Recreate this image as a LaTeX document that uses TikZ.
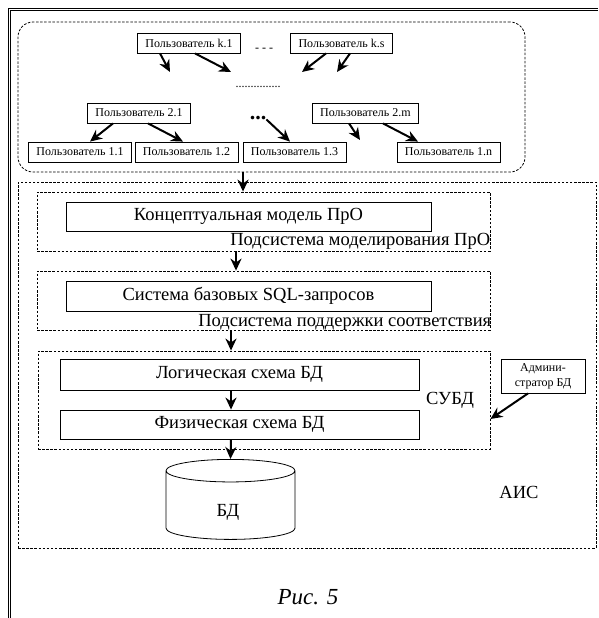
\documentclass[tikz,border=0pt]{standalone}
\usepackage{fontspec}
\setmainfont{Liberation Serif}
\usetikzlibrary{arrows.meta,shapes.geometric,positioning}
\tikzset{
  pageborder/.style={draw=black,double=white,line width=0.8pt,double distance=1.2pt},
  zone/.style={draw,dash pattern=on 2.5pt off 1.6pt,line width=0.8pt,inner sep=0pt},
  userbox/.style={draw,line width=0.8pt,minimum height=20pt,inner xsep=8pt,inner ysep=0pt,
                  font=\fontsize{12}{14}\selectfont},
  block/.style={draw,line width=0.8pt,inner sep=0pt,font=\fontsize{18.5}{20}\selectfont},
  flow/.style={-{Stealth[length=12pt,width=11pt]},line width=2pt},
  txt/.style={font=\fontsize{18.5}{20}\selectfont,inner sep=0pt}
}
\begin{document}
\begin{tikzpicture}[x=1pt,y=-1pt]
  \useasboundingbox (0,0) rectangle (598,618);
  \draw[pageborder] (9.5,618)--(9.5,9.5)--(598,9.5);

  % Users of the subject area.
  \node[zone,rounded corners=15pt,minimum width=507pt,minimum height=150pt] (users) at (271.5,97) {};
  \node[userbox] (k1) at (189,43) {Пользователь k.1};
  \node[userbox] (ks) at (341.5,43) {Пользователь k.s};
  \node[userbox] (u21) at (139,113) {Пользователь 2.1};
  \node[userbox] (u2m) at (365.5,113) {Пользователь 2.m};
  \node[userbox] (u11) at (80,152) {Пользователь 1.1};
  \node[userbox] (u12) at (186.5,152) {Пользователь 1.2};
  \node[userbox] (u13) at (294.5,152) {Пользователь 1.3};
  \node[userbox] (u1n) at (448.5,152) {Пользователь 1.n};
  \node[font=\fontsize{12}{14}\selectfont,inner sep=0pt] (gapk) at (264,50) {- - -};
  \node[font=\fontsize{12}{14}\selectfont,inner sep=0pt,anchor=base] (gapmid) at (258,88) {...............};
  \node[font=\fontsize{22}{24}\selectfont\bfseries,inner sep=0pt,anchor=base] (gaptwo) at (258,119) {...};
  \coordinate (k1a) at (170,72);
  \coordinate (k1b) at (231,72);
  \coordinate (ksa) at (302,72);
  \coordinate (ksb) at (337,72);
  \coordinate (u2ma) at (360,140);
  \draw[flow] ([xshift=-29pt]k1.south)--(k1a);
  \draw[flow] ([xshift=6pt]k1.south)--(k1b);
  \draw[flow] ([xshift=-15.5pt]ks.south)--(ksa);
  \draw[flow] ([xshift=8.5pt]ks.south)--(ksb);
  \draw[flow] ([xshift=-26pt]u21.south)--([xshift=10pt]u11.north);
  \draw[flow] ([xshift=9pt]u21.south)--([xshift=-3.5pt]u12.north);
  \draw[flow] (gaptwo.south east)--([xshift=-4.5pt]u13.north);
  \draw[flow] ([xshift=-16.5pt]u2m.south)--(u2ma);
  \draw[flow] ([xshift=17.5pt]u2m.south)--([xshift=-30.5pt]u1n.north);

  % Information system and its subsystems.
  \node[zone,minimum width=578pt,minimum height=366pt] (ais) at (307,365) {};
  \node[zone,minimum width=453pt,minimum height=59pt] (sub1) at (263.5,221.5) {};
  \node[zone,minimum width=453pt,minimum height=59pt] (sub2) at (263.5,300.5) {};
  \node[zone,minimum width=452pt,minimum height=98pt] (sub3) at (264,400) {};
  \node[block,minimum width=365pt,minimum height=29pt] (konz) at (248.5,216.5) {Концептуальная модель ПрО};
  \node[txt,anchor=east] (lab1) at ([yshift=10pt]sub1.south east) {Подсистема моделирования ПрО};
  \node[block,minimum width=365pt,minimum height=30pt] (sql) at (248.5,296) {Система базовых SQL-запросов};
  \node[txt,anchor=east] (lab2) at ([yshift=8pt,xshift=1pt]sub2.south east) {Подсистема поддержки соответствия};
  \node[block,minimum width=359pt,minimum height=31pt] (logic) at (239.5,374.5) {Логическая схема БД};
  \node[block,minimum width=359pt,minimum height=29pt] (phys) at (239.5,424.5) {Физическая схема БД};
  \node[txt] (subd) at (450,400) {СУБД};
  \node[draw,line width=0.8pt,align=center,minimum width=84pt,minimum height=34pt,inner sep=0pt,
        font=\fontsize{12}{15}\selectfont] (admin) at (543,376) {Админи-\\стратор БД};
  \node[block,cylinder,shape border rotate=90,aspect=1,minimum width=129pt,minimum height=80pt,
        anchor=north] (db) at (230.5,459) {\phantom{БД}};
  \node[txt] (dblab) at (228,512) {БД};
  \node[txt] (aislab) at (519,492) {АИС};

  \draw[flow] ([xshift=-28.5pt]users.south)--([xshift=-20.5pt]sub1.north);
  \draw[flow] ([xshift=-27.5pt]sub1.south)--([xshift=-27.5pt]sub2.north);
  \draw[flow] ([xshift=-32.5pt]sub2.south)--([xshift=-33pt]sub3.north);
  \draw[flow] ([xshift=-8.5pt]logic.south)--([xshift=-8.5pt]phys.north);
  \draw[flow] ([xshift=-8.5pt]phys.south)--(db.north);
  \draw[flow] ([xshift=-15pt]admin.south)--([yshift=-19pt]sub3.east);

  \node[font=\fontsize{23}{25}\selectfont\itshape] (cap) at (308,597) {Рис. 5};
\end{tikzpicture}
\end{document}
